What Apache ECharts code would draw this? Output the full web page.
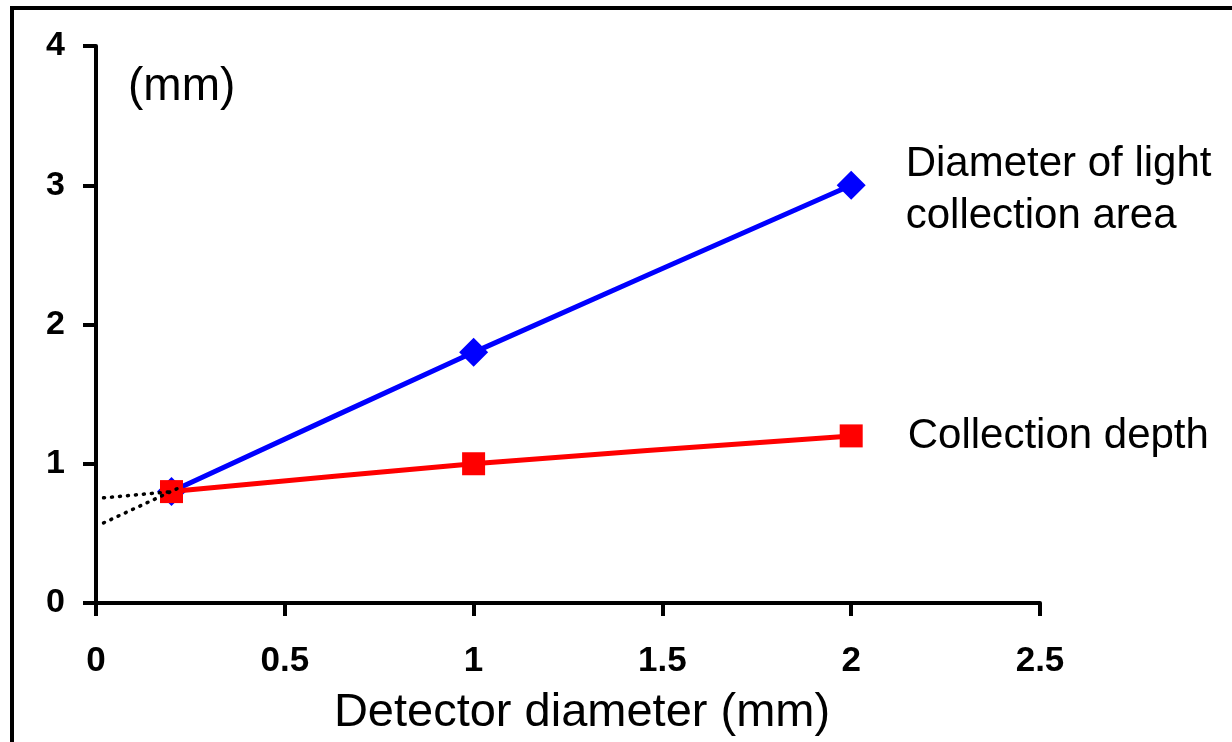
<!DOCTYPE html>
<html>
<head>
<meta charset="utf-8">
<style>
  html, body { margin: 0; padding: 0; background: #fff; }
  #chart { width: 1232px; height: 742px; }
</style>
<script src="https://cdn.jsdelivr.net/npm/echarts@6/dist/echarts.min.js"></script>
</head>
<body>
<div id="chart"></div>
<script>
// Detector diameter (mm)
const detectorDiameter = [0.2, 1, 2];
// Diameter of the light collection area (mm)
const collectionAreaDiameter = [0.8, 1.8, 3.0];
// Collection depth (mm)
const collectionDepth = [0.8, 1.0, 1.2];

// Dotted extrapolations towards zero diameter
const areaExtrapX = [0.02, 0.23];
const areaExtrapY = [0.575, 0.84];
const depthExtrapX = [0.02, 0.2];
const depthExtrapY = [0.755, 0.8];

const xTicks = [0, 0.5, 1, 1.5, 2, 2.5];
const yTicks = [0, 1, 2, 3, 4];

const areaLabel = 'Diameter of light\ncollection area';
const depthLabel = 'Collection depth';

const FONT = '"Liberation Sans", Arial, sans-serif';

function pairs(xs, ys) { return xs.map((x, i) => [x, ys[i]]); }

function withEndLabel(xs, ys, text, distance, offsetY) {
  const d = pairs(xs, ys);
  const last = d.length - 1;
  return d.map((p, i) => i === last ? {
    value: p,
    label: {
      show: true, position: 'right', distance: distance, offset: [0, offsetY],
      formatter: text, color: '#000', fontFamily: FONT, fontSize: 42,
      lineHeight: 52, align: 'left'
    }
  } : p);
}

const chart = echarts.init(document.getElementById('chart'), null, { renderer: 'canvas' });

const axisCommon = {
  type: 'value',
  axisLine: { show: true, onZero: false, lineStyle: { color: '#000', width: 4 } },
  axisTick: { show: true, inside: false, length: 13, lineStyle: { color: '#000', width: 4 } },
  splitLine: { show: false },
  axisLabel: { color: '#000', fontFamily: FONT, fontWeight: 'bold', fontSize: 34 }
};

chart.setOption({
  animation: false,
  backgroundColor: '#fff',
  grid: { left: 96, top: 46, right: 192, bottom: 139, containLabel: false },
  xAxis: Object.assign({}, axisCommon, {
    min: xTicks[0], max: xTicks[xTicks.length - 1], interval: 0.5,
    axisLabel: Object.assign({}, axisCommon.axisLabel, {
      margin: 41, fontSize: 35,
      formatter: v => String(v)
    })
  }),
  yAxis: Object.assign({}, axisCommon, {
    min: yTicks[0], max: yTicks[yTicks.length - 1], interval: 1,
    axisLabel: Object.assign({}, axisCommon.axisLabel, { margin: 31 })
  }),
  graphic: [
    {
      type: 'rect', silent: true, z: 0,
      shape: { x: 12, y: 8, width: 1260, height: 780 },
      style: { fill: 'none', stroke: '#000', lineWidth: 4 }
    },
    {
      type: 'text', left: 128, top: 64, z: 10,
      style: { text: '(mm)', fill: '#000', font: '46px ' + FONT }
    },
    {
      type: 'text', z: 10,
      x: 582, y: 713,
      style: {
        text: 'Detector diameter (mm)', fill: '#000', font: '47px ' + FONT,
        textAlign: 'center', textVerticalAlign: 'middle'
      }
    }
  ],
  series: [
    {
      name: 'Diameter of light collection area',
      type: 'line', smooth: 0.25, z: 2,
      data: withEndLabel(detectorDiameter, collectionAreaDiameter, areaLabel, 40, 5),
      symbol: 'diamond', symbolSize: [29, 29],
      itemStyle: { color: '#0000ff' },
      lineStyle: { color: '#0000ff', width: 5 }
    },
    {
      name: 'Collection depth',
      type: 'line', smooth: 0.25, z: 3,
      data: withEndLabel(detectorDiameter, collectionDepth, depthLabel, 45, 1),
      symbol: 'rect', symbolSize: 23,
      itemStyle: { color: '#ff0000' },
      lineStyle: { color: '#ff0000', width: 5 }
    },
    {
      type: 'line', z: 4, silent: true, symbol: 'none',
      data: pairs(areaExtrapX, areaExtrapY),
      lineStyle: { color: '#000', width: 3.5, type: [1, 7], cap: 'round' }
    },
    {
      type: 'line', z: 4, silent: true, symbol: 'none',
      data: pairs(depthExtrapX, depthExtrapY),
      lineStyle: { color: '#000', width: 3.5, type: [1, 7], cap: 'round' }
    }
  ]
});
</script>
</body>
</html>
